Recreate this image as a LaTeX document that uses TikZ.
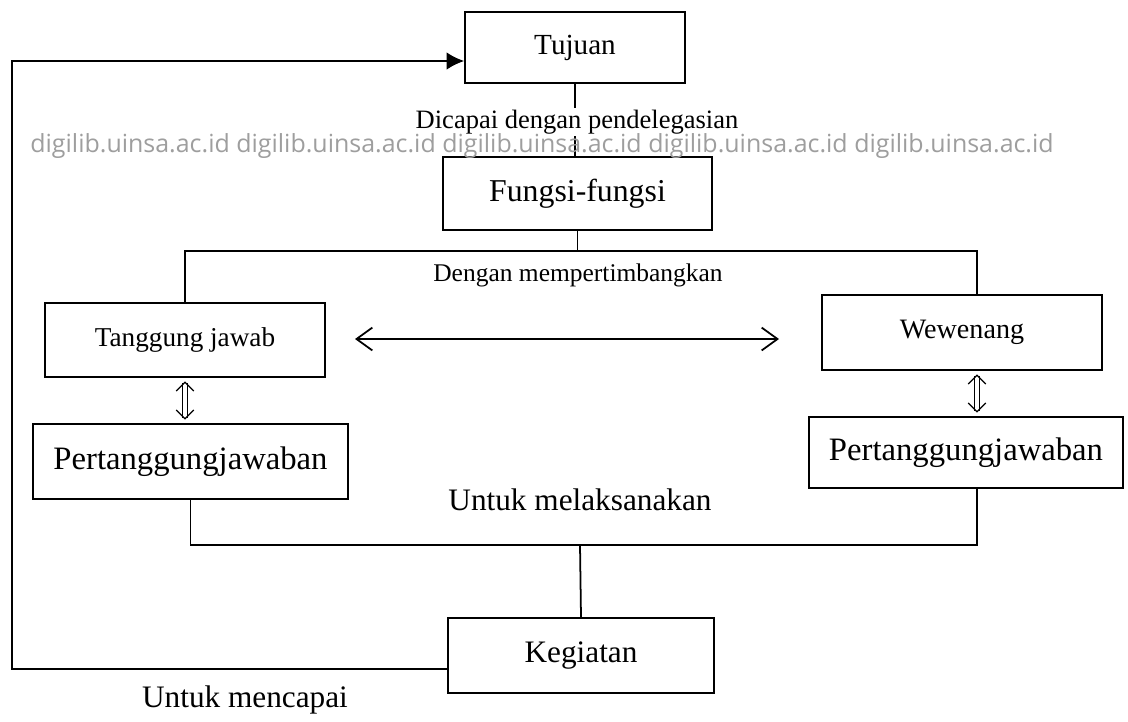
\documentclass[tikz,border=0pt]{standalone}
\usepackage{fontspec}
\setmainfont{Liberation Serif}
\newfontfamily\wmfont{Open Sans}
\usepackage{xcolor}
\usetikzlibrary{arrows.meta}

\begin{document}
\begin{tikzpicture} [x = 0.02cm, y = -0.02cm,
					blok/.style = {draw,
					    line width = 1pt,
					    inner sep = 0pt},
					huruf/.style = {font = \fontsize{#1}{#1}\selectfont},
					garis/.style = {line width = 1pt},
					ganda/.style = {double, double distance = 2.5pt, line width = 0.7pt,
					    {Straight Barb[length = 5pt, width = 10pt]}-{Straight Barb[length = 5pt, width = 10pt]},
					    shorten < = 2pt, shorten > = 2pt}]

					\path[fill = white, use as bounding box] (0,0) rectangle (1128,721);

					\node (tujuan) at (575,47.5) [blok, minimum width = 4.4cm, minimum height = 1.42cm, huruf = 16.6] {Tujuan};
					\node (fungsi) at (577.5,193.5) [blok, minimum width = 5.38cm, minimum height = 1.46cm, huruf = 18.1] {Fungsi-fungsi};
					\node (tanggung) at (185,340) [blok, minimum width = 5.6cm, minimum height = 1.48cm, huruf = 15.5] {Tanggung jawab};
					\node (wewenang) at (962,332.5) [blok, minimum width = 5.6cm, minimum height = 1.5cm, huruf = 16] {Wewenang};
					\node (pjkiri) at (190.5,461.5) [blok, minimum width = 6.3cm, minimum height = 1.5cm, huruf = 18.6] {Pertanggungjawaban};
					\node (pjkanan) at (966,452.5) [blok, minimum width = 6.28cm, minimum height = 1.42cm, huruf = 18.6] {Pertanggungjawaban};
					\node (kegiatan) at (581,655.5) [blok, minimum width = 5.32cm, minimum height = 1.5cm, huruf = 17.8] {Kegiatan};

					\coordinate (cabang) at (977,251);
					\coordinate (gabung) at (580,545);
					\coordinate (sudutatas) at (12,61);
					\coordinate (sudutbawah) at (12,669);
					\coordinate (panahkiri) at (355,339);
					\coordinate (panahkanan) at (779,339);

					\draw[garis] (tujuan.south) -- (tujuan.south |- fungsi.north);
					\draw[garis] (fungsi.south) -- (fungsi.south |- cabang);
					\draw[garis] (tanggung.north) |- (cabang) -- (cabang |- wewenang.north);
					\draw[garis, {Straight Barb[length = 9pt, width = 13pt]}-{Straight Barb[length = 9pt, width = 13pt]}] (panahkiri) -- (panahkanan);
					\draw[ganda] (tanggung.south) -- (tanggung.south |- pjkiri.north);
					\draw[ganda] (cabang |- wewenang.south) -- (cabang |- pjkanan.north);
					\draw[garis] (pjkiri.south) |- (gabung) -| (cabang |- pjkanan.south);
					\draw[garis] (gabung) -- (kegiatan.north);
					\draw[garis, -{Latex[length = 10pt, width = 10pt]}] (kegiatan.west |- sudutbawah) -- (sudutbawah) -- (sudutatas) -- (sudutatas -| tujuan.west);

					\node (dicapai) at (577,122) [fill = white, inner sep = 1pt, huruf = 15.1] {Dicapai dengan pendelegasian};
					\node (watermark) at (542,146) [text = black!38, font = \wmfont\fontsize{14.2}{15}\selectfont] {digilib.uinsa.ac.id digilib.uinsa.ac.id digilib.uinsa.ac.id digilib.uinsa.ac.id digilib.uinsa.ac.id};
					\node (dengan) at (578,275) [huruf = 14.5] {Dengan mempertimbangkan};
					\node (melaksanakan) at (580,500) [huruf = 17.8] {Untuk melaksanakan};
					\node (mencapai) at (245,700) [huruf = 17.8] {Untuk mencapai};
				\end{tikzpicture}
\end{document}
